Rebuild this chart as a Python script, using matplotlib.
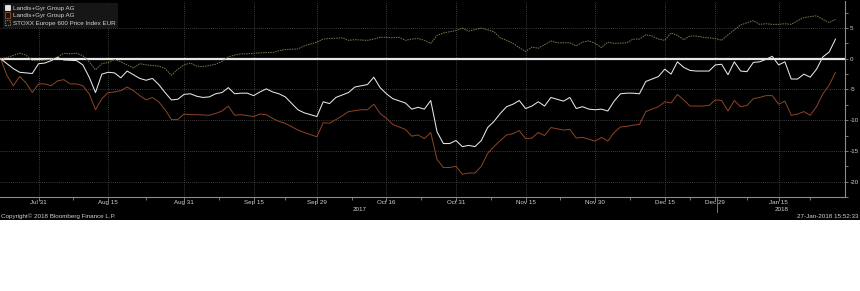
import numpy as np
import pandas as pd
import matplotlib
matplotlib.use('Agg')
import matplotlib.pyplot as plt
from matplotlib.patches import Patch, Rectangle

plt.rcParams['font.family'] = ['Liberation Sans', 'DejaVu Sans']
plt.rcParams['axes.unicode_minus'] = False

# ---------------- data ----------------
start_date, end_date = '2017-07-21', '2018-01-26'
holidays = ['2017-12-25', '2017-12-26', '2018-01-01']
tick_dates = ['2017-07-31', '2017-08-15', '2017-08-31', '2017-09-15', '2017-09-29',
              '2017-10-16', '2017-10-31', '2017-11-15', '2017-11-30', '2017-12-15',
              '2017-12-29', '2018-01-15']
tick_labels = ['Jul 31', 'Aug 15', 'Aug 31', 'Sep 15', 'Sep 29', 'Oct 16', 'Oct 31',
               'Nov 15', 'Nov 30', 'Dec 15', 'Dec 29', 'Jan 15']
y_ticks = [5, 0, -5, -10, -15, -20]
series_names = ['Landis+Gyr Group AG', 'Landis+Gyr Group AG',
                'STOXX Europe 600 Price Index EUR']

# trading-day number (since Jul 21 2017) and % change
white_day = [0, 2, 3, 5, 6, 7, 8, 9, 10, 12, 13, 14, 15, 16, 17, 18, 19, 20, 22, 23,
             24, 25, 26, 27, 28, 29, 30, 31, 32, 33, 34, 35, 36, 37, 38, 39, 40, 41, 42,
             43, 44, 45, 47, 48, 50, 51, 52, 53, 55, 56, 57, 58, 59, 60, 61, 62, 64, 65,
             66, 67, 68, 69, 70, 71, 72, 73, 74, 75, 76, 77, 78, 79, 80, 81, 82, 83, 84,
             85, 86, 87, 88, 89, 90, 91, 92, 93, 94, 95, 96, 97, 98, 99, 100, 101, 102,
             103, 104, 105, 106, 107, 108, 109, 110, 111, 112, 113, 114, 115, 116, 117,
             118, 119, 120, 121, 122, 123, 124, 125, 126, 127, 128, 129, 130, 131, 132]
white_val = [0.0, -1.6, -2.2, -2.4, -0.8, -0.7, -0.3, 0.2, -0.2, -0.3, -1.0, -3.0, -5.5,
             -2.5, -2.2, -2.3, -3.1, -2.0, -3.2, -3.5, -3.2, -4.2, -5.5, -6.7, -6.6, -5.8,
             -5.7, -6.1, -6.3, -6.2, -5.7, -5.5, -4.7, -5.7, -5.6, -5.6, -6.0, -5.4, -4.9,
             -5.4, -5.7, -6.2, -8.3, -8.8, -9.4, -7.0, -7.3, -6.3, -5.5, -4.6, -4.4, -4.2,
             -3.0, -4.7, -5.7, -6.5, -7.2, -8.2, -7.9, -8.2, -6.8, -11.9, -13.8, -13.8,
             -13.3, -14.3, -14.1, -14.3, -13.3, -11.2, -10.2, -8.9, -7.8, -7.4, -6.8, -8.1,
             -7.7, -7.0, -7.7, -6.3, -6.6, -6.9, -6.3, -8.1, -7.8, -8.2, -8.3, -8.2, -8.5,
             -6.9, -5.7, -5.6, -5.6, -5.7, -3.7, -3.3, -2.9, -1.7, -2.5, -0.5, -1.4, -1.9,
             -2.0, -2.0, -2.0, -1.0, -0.9, -2.6, -0.5, -2.0, -2.1, -0.6, -0.5, -0.1, 0.4,
             -1.0, -0.5, -3.3, -3.3, -2.5, -3.0, -1.7, 0.3, 1.1, 3.2]

brown_day = [0, 1, 2, 3, 4, 5, 6, 7, 8, 9, 10, 11, 12, 13, 14, 15, 16, 17, 18, 19, 20,
             21, 22, 23, 24, 25, 26, 27, 28, 29, 30, 31, 33, 34, 35, 36, 37, 38, 40, 41,
             42, 43, 44, 45, 47, 48, 50, 51, 52, 53, 54, 55, 57, 58, 59, 60, 61, 62, 64,
             65, 66, 67, 68, 69, 70, 71, 72, 73, 74, 75, 76, 77, 78, 79, 80, 81, 82, 83,
             84, 85, 86, 87, 88, 89, 90, 91, 92, 93, 94, 95, 96, 97, 98, 99, 100, 101,
             102, 103, 104, 105, 106, 107, 108, 109, 110, 111, 112, 113, 114, 115, 116,
             117, 118, 119, 120, 121, 122, 123, 124, 125, 126, 127, 128, 129, 130, 131, 132]
brown_val = [0.0, -2.7, -4.4, -2.9, -3.9, -5.5, -4.1, -4.1, -4.4, -3.6, -3.4, -4.1, -4.1,
             -4.4, -5.7, -8.3, -6.5, -5.5, -5.4, -5.2, -4.6, -5.2, -6.0, -6.7, -6.3, -7.0,
             -8.3, -9.9, -9.9, -9.0, -9.1, -9.1, -9.2, -8.9, -8.5, -7.7, -9.2, -9.1, -9.4,
             -9.0, -9.1, -9.7, -10.2, -10.5, -11.6, -12.0, -12.7, -10.4, -10.5, -9.9, -9.3,
             -8.6, -8.3, -8.3, -7.4, -8.9, -9.7, -10.7, -11.5, -12.6, -12.4, -13.0, -12.0,
             -16.4, -17.7, -17.7, -17.5, -18.8, -18.6, -18.6, -17.5, -15.4, -14.3, -13.3,
             -12.4, -12.2, -11.7, -13.0, -12.9, -12.0, -12.5, -11.2, -11.4, -11.6, -11.5,
             -12.9, -12.8, -13.1, -13.4, -12.8, -13.4, -12.0, -11.1, -11.0, -10.8, -10.7,
             -8.6, -8.2, -7.8, -7.0, -7.2, -5.8, -6.7, -7.7, -7.7, -7.7, -7.6, -6.7, -6.8,
             -8.5, -6.8, -7.8, -7.6, -6.5, -6.3, -6.0, -6.0, -7.4, -6.9, -9.2, -9.0, -8.6,
             -9.2, -7.8, -5.7, -4.3, -2.2]

olive_day = [0, 1, 3, 4, 5, 6, 8, 9, 10, 11, 12, 13, 14, 15, 16, 17, 18, 19, 20, 21, 22,
             23, 24, 25, 26, 27, 28, 29, 30, 31, 32, 33, 34, 35, 36, 37, 38, 39, 40, 42,
             43, 44, 45, 47, 48, 50, 51, 52, 54, 55, 56, 58, 59, 60, 61, 62, 63, 64, 65,
             66, 67, 68, 69, 70, 72, 73, 74, 76, 77, 78, 79, 80, 81, 82, 83, 84, 85, 86,
             87, 88, 89, 90, 91, 92, 93, 94, 95, 96, 97, 99, 100, 101, 102, 103, 104, 105,
             106, 107, 108, 109, 110, 111, 112, 113, 114, 115, 116, 117, 119, 120, 121,
             122, 123, 124, 125, 126, 127, 129, 130, 131, 132]
olive_val = [0.0, 0.2, 0.9, 0.6, -0.3, -0.3, -0.1, 0.3, 0.9, 0.8, 0.9, 0.5, -0.5, -1.8,
             -0.8, -0.6, -0.1, -0.5, -1.0, -1.5, -0.8, -1.0, -1.1, -1.2, -1.6, -2.7, -1.7,
             -1.0, -0.7, -1.2, -1.3, -1.1, -0.9, -0.4, 0.3, 0.6, 0.8, 0.8, 0.9, 1.0, 1.0,
             1.3, 1.5, 1.6, 2.1, 2.7, 3.2, 3.3, 3.4, 3.0, 3.1, 3.0, 3.2, 3.5, 3.5, 3.4, 3.5,
             3.0, 3.2, 3.3, 3.0, 2.5, 3.8, 4.2, 4.6, 5.0, 4.5, 5.0, 4.7, 4.4, 3.4, 3.0, 2.5,
             1.8, 1.2, 1.9, 1.7, 2.3, 2.9, 2.6, 2.6, 2.6, 2.1, 2.7, 2.9, 2.5, 1.8, 2.7, 2.5,
             2.6, 3.2, 3.2, 3.9, 3.7, 3.2, 3.0, 4.2, 3.8, 3.1, 3.7, 3.7, 3.5, 3.4, 3.3, 3.0,
             3.9, 4.7, 5.5, 6.2, 5.6, 5.7, 5.6, 5.6, 5.7, 5.6, 6.2, 6.7, 7.0, 6.4, 5.9, 6.4]

# ---------------- style ----------------
WHITE = '#e6e6e6'
BROWN = '#8e4526'
OLIVE = '#7c7c52'
GRID = '#505050'
AXC = '#8c8c8c'
TXT = '#d2d2d2'
FS = 4.5

W, H = 860, 291
fig = plt.figure(figsize=(W / 100, H / 100), dpi=100, facecolor='white')
fig.patches.append(Rectangle((0, 1 - 220 / H), 1, 220 / H, transform=fig.transFigure,
                             facecolor='black', edgecolor='none', zorder=-10))
ax = fig.add_axes([0, 1 - 197 / H, 845 / W, 196 / H])
ax.set_zorder(1)
ax.set_facecolor('black')

# trading calendar
days = pd.bdate_range(start_date, end_date)
days = days[~days.isin(pd.to_datetime(holidays))]
tick_pos = [days.get_loc(pd.Timestamp(d)) for d in tick_dates]

ax.axhline(0, color=WHITE, lw=1.6, zorder=2)
ax.plot(olive_day, olive_val, color=OLIVE, lw=0.7, ls=(0, (1.5, 1.0)), zorder=3)
ax.plot(brown_day, brown_val, color=BROWN, lw=0.7, zorder=4)
ax.plot(white_day, white_val, color=WHITE, lw=0.75, zorder=5)

ax.set_xlim(-0.1, 133.5)
ax.set_ylim(-21.45, 9.4)

for s in ['left', 'top']:
    ax.spines[s].set_visible(False)
for s in ['right', 'bottom']:
    ax.spines[s].set_color(AXC)
    ax.spines[s].set_linewidth(0.8)

# x ticks
ax.set_xticks(tick_pos)
ax.set_xticklabels(tick_labels)
minor_x = [(a + b) / 2 for a, b in zip(tick_pos[:-1], tick_pos[1:])]
minor_x.append(tick_pos[-1] + (tick_pos[-1] - tick_pos[-2]) / 2)
ax.set_xticks(minor_x, minor=True)
ax.tick_params(axis='x', which='major', colors=AXC, labelcolor=TXT, labelsize=FS,
               length=3, width=0.6, pad=-0.5)
ax.tick_params(axis='x', which='minor', colors=AXC, length=2, width=0.6)

# y ticks on right
ax.yaxis.tick_right()
ax.set_yticks(y_ticks)
ax.set_yticklabels([str(v) for v in y_ticks])
ax.set_yticks([v - 2.5 for v in y_ticks] + [y_ticks[0] + 2.5], minor=True)
ax.tick_params(axis='y', which='major', colors=AXC, labelcolor=TXT, labelsize=FS,
               length=2.5, width=0.6, pad=1.2)
ax.tick_params(axis='y', which='minor', colors=AXC, length=2, width=0.6)

ax.grid(axis='x', which='major', color=GRID, ls=(0, (1, 1.5)), lw=0.6, zorder=1)
ax.grid(axis='y', which='major', color=GRID, ls=(0, (1, 1.5)), lw=0.6, zorder=1)

# years
xt = ax.get_xaxis_transform()
is2017 = np.array([d.year == 2017 for d in days])
last17 = int(np.where(is2017)[0][-1])
x0, x1 = ax.get_xlim()
ax.text((x0 + last17 + 0.5) / 2, -0.064, '2017', transform=xt, ha='center', va='center',
        fontsize=FS, color=TXT)
ax.text((last17 + 0.5 + x1) / 2, -0.064, '2018', transform=xt, ha='center', va='center',
        fontsize=FS, color=TXT)
ax.plot([last17 + 0.2] * 2, [0, -0.078], transform=xt, color=AXC, lw=0.6, clip_on=False)

# legend
handles = [Patch(facecolor=WHITE, edgecolor=WHITE, lw=0.6),
           Patch(facecolor='none', edgecolor=BROWN, lw=0.7),
           Patch(facecolor='none', edgecolor=OLIVE, lw=0.7, ls=(0, (1.5, 1.0)))]
leg = ax.legend(handles, series_names, loc='upper left', bbox_to_anchor=(0.003, 0.99),
                fontsize=FS, frameon=True, facecolor='#161616', edgecolor='none',
                framealpha=1, fancybox=False, borderpad=0.35, labelspacing=0.25,
                handlelength=0.9, handleheight=0.9, handletextpad=0.4, borderaxespad=0)
for t in leg.get_texts():
    t.set_color(TXT)

fig.text(0.001, 1 - 216 / H, 'Copyright\u00a9 2018 Bloomberg Finance L.P.', ha='left',
         va='center', fontsize=FS, color=TXT)
fig.text(0.998, 1 - 216 / H, '27-Jan-2018 15:52:33', ha='right', va='center',
         fontsize=FS, color=TXT)

fig.savefig('out.png', dpi=100, facecolor='white')
